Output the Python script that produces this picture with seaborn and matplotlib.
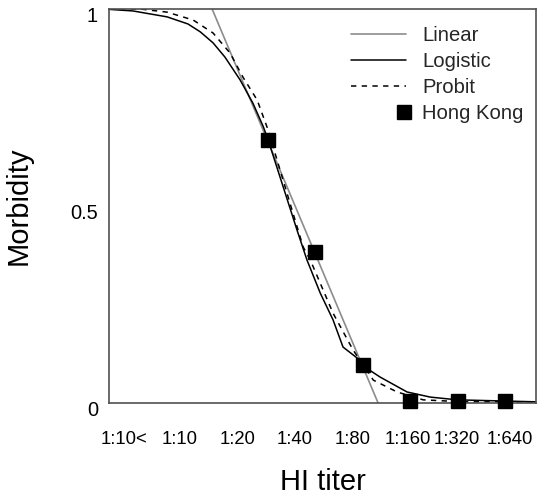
import matplotlib
matplotlib.use("Agg")
import matplotlib.pyplot as plt
import matplotlib.transforms as mtransforms
from matplotlib.legend_handler import HandlerLine2D
import seaborn as sns
import pandas as pd

sns.set_theme(style="white")
plt.rcParams['font.family'] = ['Liberation Sans', 'DejaVu Sans']

# x axis: titer steps (1:20 -> 2, 1:40 -> 3, ...)
titer_labels = ['1:10<', '1:10', '1:20', '1:40', '1:80', '1:160', '1:320', '1:640']
label_pos = [-1.04, 0.14, 1.35, 2.57, 3.78, 4.95, 5.97, 7.09]

# observed morbidity, Hong Kong
hk_x = [2, 3, 4, 5, 6, 7]
hk_y = [0.668, 0.383, 0.096, 0.005, 0.005, 0.005]

# fitted curves
linear_x = [0.82, 4.32]
linear_y = [1.0, 0.0]

logistic_x = [-1.35, -0.85, -0.13, 0.31, 0.57, 0.84, 1.09, 1.41, 1.68, 1.9, 2.0,
              2.32, 2.61, 2.82, 3.1, 3.37, 3.58, 3.88, 3.98, 4.36, 4.93, 5.42, 5.99, 7.65]
logistic_y = [0.999, 0.995, 0.98, 0.962, 0.942, 0.914, 0.878, 0.82, 0.761, 0.701, 0.668,
              0.548, 0.439, 0.363, 0.279, 0.211, 0.142, 0.114, 0.096, 0.066, 0.028, 0.015, 0.008, 0.003]

probit_x = [-1.35, -0.7, -0.13, 0.42, 0.84, 1.2, 1.47, 1.77, 2.0, 2.46, 2.74, 2.89,
            3.37, 3.79, 4.22, 4.72, 5.27, 6.11, 7.65]
probit_y = [1.0, 1.0, 0.992, 0.972, 0.939, 0.888, 0.827, 0.769, 0.693, 0.508, 0.396, 0.363,
            0.228, 0.135, 0.058, 0.028, 0.008, 0.003, 0.003]


class RightMarker(HandlerLine2D):
    # square at the right end of the handle, like the original
    # (with numpoints=1 matplotlib marks the middle of xdata)
    def get_xdata(self, legend, xdescent, ydescent, width, height, fontsize):
        xd, xm = super().get_xdata(legend, xdescent, ydescent, width, height, fontsize)
        c = -xdescent + width - 0.08 * fontsize
        return [c - 1, c + 1], [c]


fig, ax = plt.subplots(figsize=(5.41, 4.96), dpi=100)
fig.subplots_adjust(left=0.2015, right=0.9908, bottom=0.1875, top=0.9819)

sns.lineplot(x=linear_x, y=linear_y, ax=ax, color='#8c8c8c', lw=1.2, label='Linear')
sns.lineplot(x=logistic_x, y=logistic_y, ax=ax, color='black', lw=1.1, label='Logistic')
sns.lineplot(x=probit_x, y=probit_y, ax=ax, color='black', lw=1.1, label='Probit')
ax.lines[-1].set_dashes((3.5, 3.5))
hk, = ax.plot(hk_x, hk_y, ls='none', marker='s', ms=10.5, color='black',
              label='Hong Kong', clip_on=False, zorder=5)

ax.set_xlim(-1.354, 7.65)
ax.set_ylim(0, 1)
ax.set_xticks(label_pos)
ax.set_xticklabels(titer_labels)
ax.set_yticks([0, 0.5, 1])
ax.set_yticklabels(['0', '0.5', '1'])
ax.tick_params(axis='x', length=0, pad=20, labelsize=13.3, colors='black')
ax.tick_params(axis='y', length=0, pad=8, labelsize=14.4, colors='black')
off = mtransforms.ScaledTranslation(0, -6 / 100, fig.dpi_scale_trans)
for lab in ax.get_yticklabels():
    lab.set_transform(lab.get_transform() + off)

for s in ax.spines.values():
    s.set_color('#505050')
    s.set_linewidth(1.2)

ax.set_xlabel('HI titer', fontsize=21, color='black')
ax.set_ylabel('Morbidity', fontsize=21, color='black')
ax.xaxis.set_label_coords(0.5, -0.165)
ax.yaxis.set_label_coords(-0.178, 0.5)

leg = ax.legend(loc='upper left', bbox_to_anchor=(0.567, 0.957), frameon=False,
                fontsize=14.6, handlelength=2.7, handletextpad=0.8, labelspacing=0.34,
                borderpad=0, borderaxespad=0, numpoints=1,
                handler_map={hk: RightMarker(numpoints=1)})

plt.savefig('out.png', dpi=100)
